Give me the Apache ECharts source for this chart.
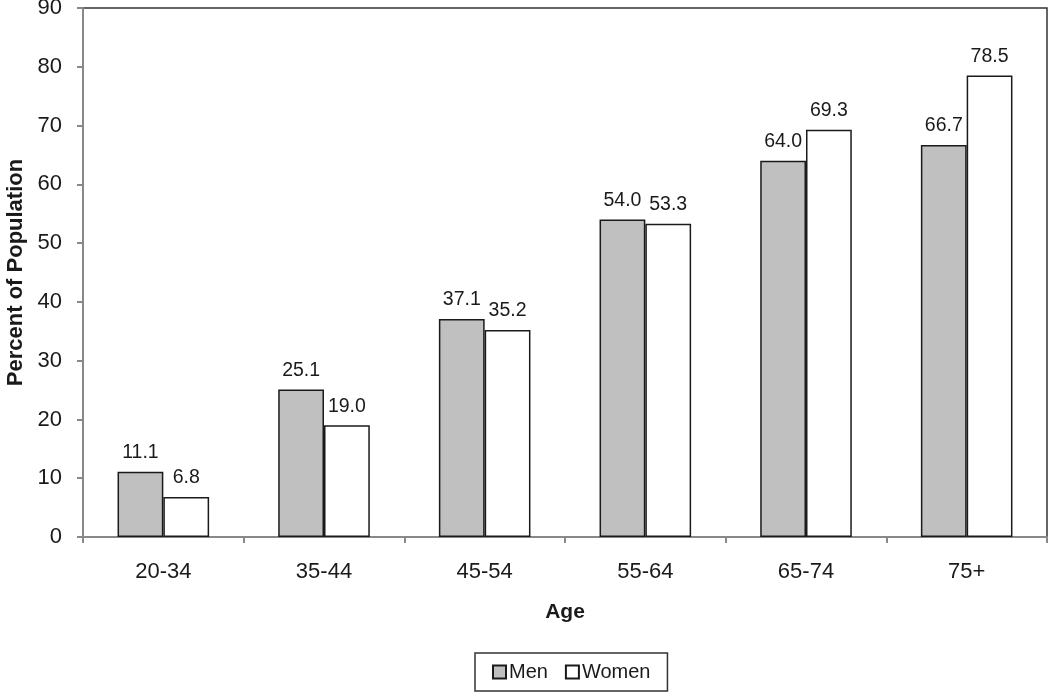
<!DOCTYPE html>
<html>
<head>
<meta charset="utf-8">
<script src="https://cdn.jsdelivr.net/npm/echarts@6/dist/echarts.min.js"></script>
<style>html,body{margin:0;padding:0;background:#fff}#c{width:1050px;height:693px}</style>
</head>
<body>
<div id="c"></div>
<script>
const categories = ['20-34', '35-44', '45-54', '55-64', '65-74', '75+'];
const men = [11.1, 25.1, 37.1, 54.0, 64.0, 66.7];
const women = [6.8, 19.0, 35.2, 53.3, 69.3, 78.5];
const yTicks = { min: 0, max: 90, interval: 10 };

const chart = echarts.init(document.getElementById('c'), null, { renderer: 'canvas' });
const font = 'Liberation Sans, Arial, sans-serif';
const labelCfg = {
  show: true, position: 'top', distance: 9, color: '#1a1a1a',
  fontFamily: font, fontSize: 19.5, formatter: p => p.value.toFixed(1)
};
chart.setOption({
  animation: false,
  backgroundColor: '#fff',
  textStyle: { fontFamily: font },
  grid: { left: 83, right: 3, top: 8, bottom: 156, show: true, borderColor: '#333', borderWidth: 1.5, outerBoundsMode: 'none', containLabel: false },
  legend: {
    top: 653, left: 475,
    data: ['Men', 'Women'],
    itemWidth: 13, itemHeight: 13, itemGap: 17,
    padding: [9, 17, 9, 17],
    borderColor: '#333', borderWidth: 1.5,
    icon: 'rect',
    textStyle: { fontFamily: font, fontSize: 20, color: '#1a1a1a', padding: [0, 0, 0, -2] }
  },
  xAxis: {
    type: 'category', data: categories,
    name: 'Age', nameLocation: 'middle', nameGap: 65,
    nameTextStyle: { fontFamily: font, fontSize: 21, fontWeight: 'bold', color: '#1a1a1a' },
    axisLine: { lineStyle: { color: '#888', width: 2 } },
    axisTick: { show: true, length: 6, lineStyle: { color: '#888', width: 2 } },
    axisLabel: { fontFamily: font, fontSize: 22, color: '#1a1a1a', margin: 24 },
    splitLine: { show: false }
  },
  yAxis: {
    type: 'value', min: yTicks.min, max: yTicks.max, interval: yTicks.interval,
    name: 'Percent of Population', nameLocation: 'middle', nameGap: 56, nameRotate: 90,
    nameTextStyle: { fontFamily: font, fontSize: 22, fontWeight: 'bold', color: '#1a1a1a' },
    axisLine: { show: true, lineStyle: { color: '#888', width: 2 } },
    axisTick: { show: true, length: 6, lineStyle: { color: '#888', width: 2 } },
    axisLabel: { fontFamily: font, fontSize: 22, color: '#1a1a1a', margin: 21 },
    splitLine: { show: false }
  },
  series: [
    {
      name: 'Men', type: 'bar', data: men,
      barGap: '0%', barCategoryGap: '43%',
      itemStyle: { color: '#c0c0c0', borderColor: '#1a1a1a', borderWidth: 1.5 },
      label: labelCfg
    },
    {
      name: 'Women', type: 'bar', data: women,
      itemStyle: { color: '#ffffff', borderColor: '#1a1a1a', borderWidth: 1.5 },
      label: labelCfg
    }
  ]
});
</script>
</body>
</html>
